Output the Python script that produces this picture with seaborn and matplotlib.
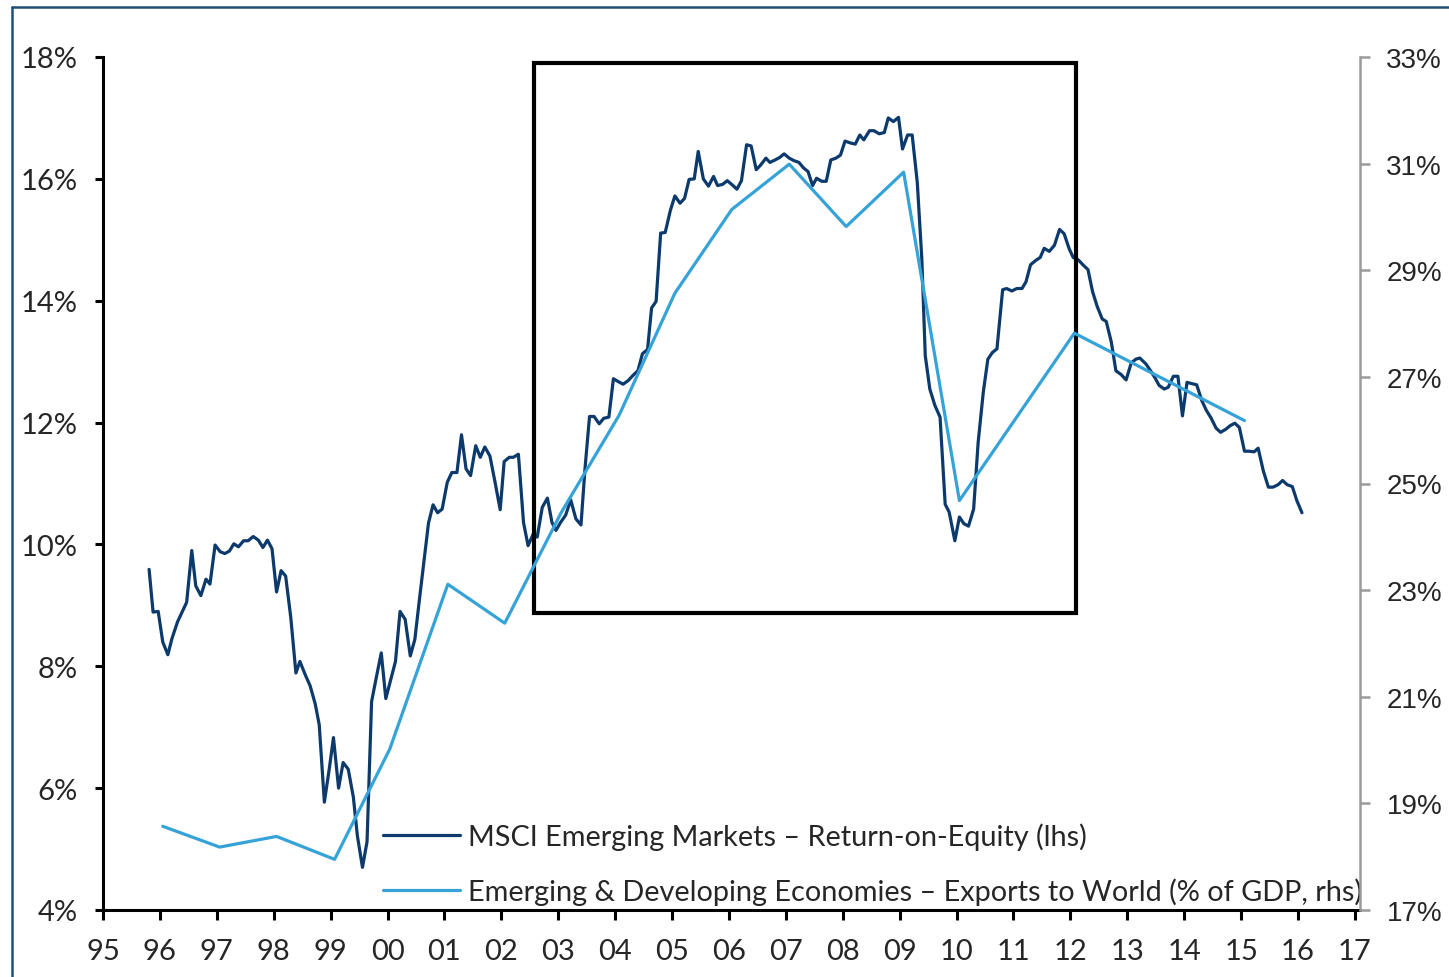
import matplotlib
matplotlib.use("Agg")
import matplotlib.pyplot as plt
import seaborn as sns
import pandas as pd
from matplotlib.patches import Rectangle
from matplotlib.lines import Line2D

# MSCI EM return-on-equity (lhs), monthly, decimal year -> %
roe_year = [
    1995.81, 1995.88, 1995.97, 1996.05, 1996.14, 1996.21, 1996.31, 1996.47, 1996.56, 1996.63,
    1996.72, 1996.81, 1996.88, 1996.97, 1997.06, 1997.14, 1997.22, 1997.30, 1997.38, 1997.47,
    1997.55, 1997.64, 1997.73, 1997.81, 1997.89, 1997.97, 1998.05, 1998.13, 1998.21, 1998.30,
    1998.39, 1998.46, 1998.55, 1998.64, 1998.73, 1998.80, 1998.89, 1998.98, 1999.05, 1999.14,
    1999.22, 1999.31, 1999.40, 1999.47, 1999.56, 1999.64, 1999.72, 1999.81, 1999.89, 1999.97,
    2000.06, 2000.14, 2000.22, 2000.31, 2000.40, 2000.48, 2000.56, 2000.72, 2000.80, 2000.88,
    2000.96, 2001.05, 2001.13, 2001.22, 2001.30, 2001.38, 2001.46, 2001.55, 2001.63, 2001.71,
    2001.80, 2001.89, 2001.98, 2002.05, 2002.14, 2002.21, 2002.30, 2002.39, 2002.47, 2002.56,
    2002.63, 2002.72, 2002.81, 2002.89, 2002.96, 2003.04, 2003.13, 2003.22, 2003.31, 2003.40,
    2003.47, 2003.55, 2003.63, 2003.72, 2003.80, 2003.89, 2003.97, 2004.06, 2004.14, 2004.23,
    2004.32, 2004.40, 2004.48, 2004.57, 2004.64, 2004.72, 2004.80, 2004.88, 2004.97, 2005.05,
    2005.14, 2005.22, 2005.30, 2005.39, 2005.46, 2005.55, 2005.64, 2005.73, 2005.80, 2005.89,
    2005.97, 2006.06, 2006.14, 2006.22, 2006.31, 2006.39, 2006.48, 2006.56, 2006.65, 2006.72,
    2006.81, 2006.89, 2006.97, 2007.06, 2007.14, 2007.23, 2007.31, 2007.39, 2007.47, 2007.54,
    2007.63, 2007.71, 2007.79, 2007.88, 2007.96, 2008.04, 2008.13, 2008.22, 2008.30, 2008.37,
    2008.47, 2008.55, 2008.64, 2008.73, 2008.80, 2008.89, 2008.98, 2009.05, 2009.14, 2009.22,
    2009.31, 2009.39, 2009.45, 2009.53, 2009.62, 2009.71, 2009.80, 2009.87, 2009.97, 2010.05,
    2010.13, 2010.21, 2010.30, 2010.38, 2010.47, 2010.55, 2010.63, 2010.71, 2010.81, 2010.88,
    2010.97, 2011.06, 2011.15, 2011.22, 2011.30, 2011.39, 2011.47, 2011.54, 2011.63, 2011.72,
    2011.81, 2011.89, 2011.98, 2012.05, 2012.14, 2012.22, 2012.31, 2012.39, 2012.47, 2012.56,
    2012.63, 2012.72, 2012.80, 2012.89, 2012.98, 2013.07, 2013.15, 2013.22, 2013.33, 2013.41,
    2013.49, 2013.56, 2013.65, 2013.72, 2013.81, 2013.89, 2013.97, 2014.05, 2014.13, 2014.22,
    2014.31, 2014.39, 2014.47, 2014.56, 2014.64, 2014.73, 2014.81, 2014.89, 2014.97, 2015.06,
    2015.14, 2015.23, 2015.30, 2015.39, 2015.48, 2015.56, 2015.65, 2015.73, 2015.81, 2015.90,
    2015.98, 2016.07,
]
roe_pct = [
    9.59, 8.89, 8.90, 8.40, 8.19, 8.45, 8.73, 9.05, 9.90, 9.32,
    9.16, 9.43, 9.35, 9.99, 9.88, 9.85, 9.89, 10.01, 9.96, 10.06,
    10.06, 10.13, 10.07, 9.95, 10.07, 9.93, 9.22, 9.57, 9.48, 8.80,
    7.89, 8.08, 7.87, 7.68, 7.38, 7.04, 5.77, 6.34, 6.83, 6.00,
    6.42, 6.31, 5.85, 5.22, 4.70, 5.12, 7.42, 7.85, 8.22, 7.47,
    7.79, 8.08, 8.90, 8.77, 8.17, 8.44, 9.09, 10.35, 10.65, 10.52,
    10.58, 11.02, 11.18, 11.18, 11.80, 11.24, 11.13, 11.62, 11.43, 11.60,
    11.45, 11.02, 10.57, 11.36, 11.43, 11.43, 11.48, 10.36, 9.98, 10.17,
    10.12, 10.61, 10.76, 10.36, 10.23, 10.36, 10.48, 10.73, 10.42, 10.32,
    11.24, 12.10, 12.10, 11.98, 12.07, 12.09, 12.72, 12.67, 12.63, 12.69,
    12.78, 12.85, 13.13, 13.20, 13.88, 13.99, 15.11, 15.12, 15.48, 15.72,
    15.60, 15.68, 15.99, 16.00, 16.45, 16.00, 15.88, 16.04, 15.89, 15.91,
    15.97, 15.90, 15.83, 15.97, 16.56, 16.54, 16.15, 16.23, 16.34, 16.27,
    16.31, 16.35, 16.41, 16.34, 16.30, 16.27, 16.18, 16.12, 15.89, 16.01,
    15.96, 15.96, 16.31, 16.34, 16.39, 16.62, 16.59, 16.57, 16.72, 16.64,
    16.79, 16.79, 16.74, 16.76, 17.00, 16.94, 17.01, 16.49, 16.72, 16.72,
    15.94, 14.68, 13.10, 12.55, 12.28, 12.09, 10.66, 10.53, 10.06, 10.45,
    10.34, 10.30, 10.58, 11.68, 12.50, 13.04, 13.15, 13.21, 14.18, 14.20,
    14.16, 14.20, 14.20, 14.31, 14.59, 14.66, 14.71, 14.86, 14.81, 14.91,
    15.17, 15.10, 14.85, 14.71, 14.67, 14.59, 14.51, 14.15, 13.91, 13.70,
    13.66, 13.32, 12.85, 12.79, 12.70, 12.98, 13.04, 13.06, 12.96, 12.85,
    12.73, 12.61, 12.55, 12.58, 12.76, 12.76, 12.11, 12.66, 12.64, 12.62,
    12.36, 12.20, 12.08, 11.91, 11.84, 11.89, 11.95, 11.99, 11.92, 11.53,
    11.53, 11.52, 11.58, 11.21, 10.94, 10.94, 10.98, 11.05, 10.98, 10.95,
    10.72, 10.52,
]

# EM & developing economies exports to world, % of GDP (rhs), annual
exp_year = [1996.05, 1997.05, 1998.05, 1999.07, 2000.04, 2001.06, 2002.06, 2003.05, 2004.07,
            2005.05, 2006.05, 2007.06, 2008.06, 2009.07, 2010.05, 2012.07, 2015.06]
exp_pct = [18.57, 18.18, 18.38, 17.95, 20.02, 23.11, 22.38, 24.45, 26.28,
           28.57, 30.14, 30.99, 29.82, 30.84, 24.68, 27.82, 26.18]

xticks = list(range(1995, 2018))
xlabels = [str(y)[2:] for y in xticks]
left_ticks = [4, 6, 8, 10, 12, 14, 16, 18]
right_ticks = [17, 19, 21, 23, 25, 27, 29, 31, 33]

label_roe = "MSCI Emerging Markets \u2013 Return-on-Equity (lhs)"
label_exp = "Emerging & Developing Economies \u2013 Exports to World (% of GDP, rhs)"

# highlighted period box (x in years, y on lhs scale)
box_x0, box_x1 = 2002.575, 2012.10
box_y0, box_y1 = 8.875, 17.90

DARK = "#0C3A6C"
LIGHT = "#35A2D8"

sns.set_style("white")
plt.rcParams["font.family"] = ["Lato", "DejaVu Sans"]

roe = pd.DataFrame({"year": roe_year, "roe": roe_pct})
exp = pd.DataFrame({"year": exp_year, "exp": exp_pct})

fig = plt.figure(figsize=(14.49, 9.78), dpi=100)
ax = fig.add_axes([103 / 1449, 1 - 911 / 978, (1360 - 103) / 1449, (911 - 58) / 978])
ax2 = ax.twinx()

sns.lineplot(data=roe, x="year", y="roe", ax=ax, color=DARK, lw=2.3, legend=False)
sns.lineplot(data=exp, x="year", y="exp", ax=ax2, color=LIGHT, lw=2.3, legend=False)

ax.set_xlim(1995, 2017.09)
ax.set_ylim(4, 18)
ax2.set_ylim(17, 33)
ax.set_xticks(xticks)
ax.set_xticklabels(xlabels)
ax.set_yticks(left_ticks)
ax.set_yticklabels([f"{v}%" for v in left_ticks])
ax2.set_yticks(right_ticks)
ax2.set_yticklabels([f"{v}%" for v in right_ticks], family=["Liberation Sans", "DejaVu Sans"])
ax.set_xlabel("")
ax.set_ylabel("")
ax2.set_ylabel("")

for a in (ax, ax2):
    a.spines["top"].set_visible(False)
ax.spines["right"].set_visible(False)
ax2.spines["left"].set_visible(False)
ax2.spines["bottom"].set_visible(False)
ax.spines["left"].set_linewidth(2.2)
ax.spines["bottom"].set_linewidth(2.2)
ax.spines["left"].set_color("black")
ax.spines["bottom"].set_color("black")
ax2.spines["right"].set_color("#9A9A9A")
ax2.spines["right"].set_linewidth(1.8)

ax.tick_params(axis="x", direction="out", length=7, width=2.2, color="black",
               labelsize=21, pad=13, bottom=True)
ax.tick_params(axis="y", direction="out", length=6, width=2.2, color="black",
               labelsize=21, pad=12, left=True)
ax2.tick_params(axis="y", direction="out", length=7, width=1.8, color="#9A9A9A",
                labelsize=20, pad=12, right=True)

ax.add_patch(Rectangle((box_x0, box_y0), box_x1 - box_x0, box_y1 - box_y0,
                       fill=False, edgecolor="black", lw=3, zorder=5))

handles = [Line2D([], [], color=DARK, lw=2.3), Line2D([], [], color=LIGHT, lw=2.3)]
ax.legend(handles, [label_roe, label_exp], loc="lower left",
          bbox_to_anchor=(0.2228, 0.006), frameon=False, fontsize=20.8,
          handlelength=2.66, handletextpad=0.28, labelspacing=0.95, borderpad=0,
          borderaxespad=0)

# page frame (top and left edges)
fig.add_artist(Line2D([12 / 1449, 12 / 1449], [0, 1 - 8 / 978], color="#1F4E79", lw=1.8))
fig.add_artist(Line2D([12 / 1449, 1], [1 - 8 / 978, 1 - 8 / 978], color="#1F4E79", lw=1.8))

fig.savefig("out.png", dpi=100)
